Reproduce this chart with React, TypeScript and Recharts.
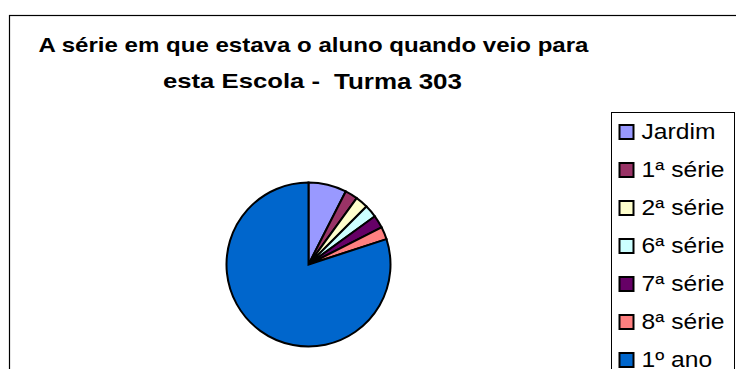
import React from "react";
import { PieChart, Pie, Cell, Legend, Customized } from "recharts";

const categories = ["Jardim", "1ª série", "2ª série", "6ª série", "7ª série", "8ª série", "1º ano"];
const counts = [3, 1, 1, 1, 1, 1, 32];
const colors = ["#9999FF", "#993366", "#FFFFCC", "#CCFFFF", "#660066", "#FF8080", "#0066CC"];
const titleLine1 = "A série em que estava o aluno quando veio para";
const titleLine2a = "esta Escola -";
const titleLine2b = "Turma 303";

const data = categories.map((name, i) => ({ name, value: counts[i] }));

const FONT = "Liberation Sans, Arial, Helvetica, sans-serif";

const Frame = () => (
  <g>
    <rect x={9.5} y={15.5} width={800} height={400} fill="none" stroke="#000" strokeWidth={1.2} />
    <text x={38.5} y={52} fontFamily={FONT} fontWeight="bold" fontSize={21} textLength={550} lengthAdjust="spacingAndGlyphs" fill="#000">
      {titleLine1}
    </text>
    <text x={163} y={88} fontFamily={FONT} fontWeight="bold" fontSize={21} textLength={157} lengthAdjust="spacingAndGlyphs" fill="#000">
      {titleLine2a}
    </text>
    <text x={334} y={89} fontFamily={FONT} fontWeight="bold" fontSize={22.5} textLength={128} lengthAdjust="spacingAndGlyphs" fill="#000">
      {titleLine2b}
    </text>
  </g>
);

const LegendBox = (props: any) => {
  const raw = props.payload || [];
  const payload = [...raw].sort(
    (a: any, b: any) => categories.indexOf(a.value) - categories.indexOf(b.value)
  );
  return (
    <svg width={125} height={260} style={{ display: "block", overflow: "visible" }}>
      <rect x={0.5} y={0.5} width={123} height={300} fill="#fff" stroke="#000" strokeWidth={1} />
      {payload.map((p: any, i: number) => (
        <g key={i} transform={`translate(0, ${i * 38})`}>
          <rect x={8.5} y={13} width={14} height={14} fill={p.color} stroke="#000" strokeWidth={2} />
          <text
            transform={`translate(30.5, 26.5) scale(1.12, 1)`}
            fontFamily={FONT}
            fontSize={22}
            fill="#000"
          >
            {p.value}
          </text>
        </g>
      ))}
    </svg>
  );
};

export default function App() {
  return (
    <div style={{ position: "absolute", left: 0, top: 0, width: 736, height: 369, background: "#fff", overflow: "hidden" }}>
      <PieChart width={736} height={369} margin={{ top: 0, right: 0, bottom: 0, left: 0 }}>
        <Customized component={Frame} />
        <Pie
          data={data}
          dataKey="value"
          nameKey="name"
          cx={308.5}
          cy={264.5}
          outerRadius={82}
          startAngle={90}
          endAngle={-270}
          stroke="#000"
          strokeWidth={2}
          isAnimationActive={false}
          legendType="square"
        >
          {data.map((d, i) => (
            <Cell key={d.name} fill={colors[i]} />
          ))}
        </Pie>
        <Legend
          content={<LegendBox />}
          wrapperStyle={{ position: "absolute", left: 611, top: 112, width: 125, height: 260 }}
        />
      </PieChart>
    </div>
  );
}
